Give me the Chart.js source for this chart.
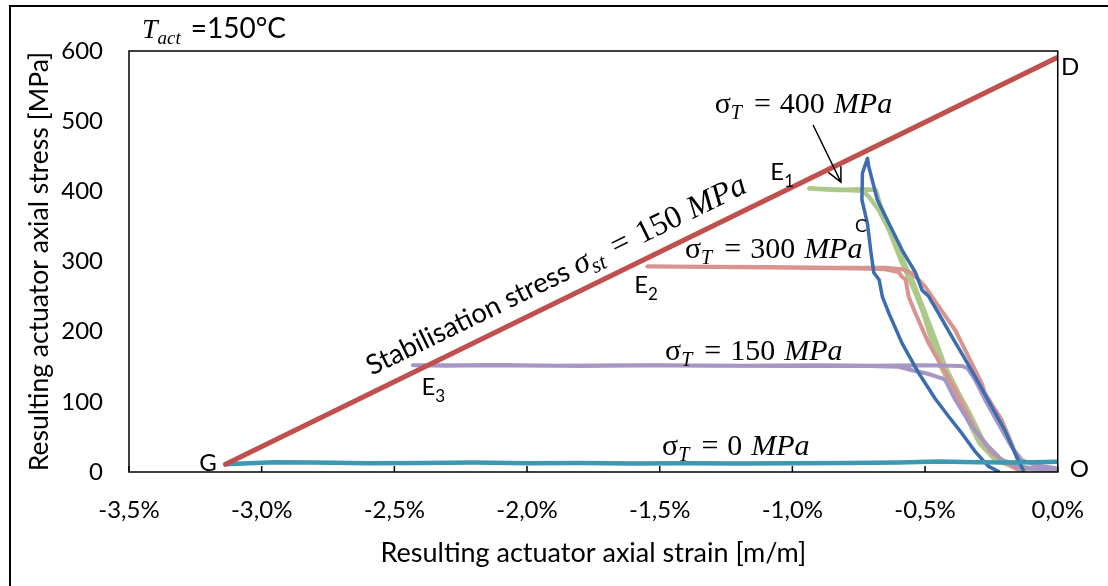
<!DOCTYPE html>
<html>
<head>
<meta charset="utf-8">
<script src="https://cdn.jsdelivr.net/npm/chart.js@4.4.1/dist/chart.umd.min.js"></script>
<style>
  html, body { margin: 0; padding: 0; background: #fff; }
  #wrap { width: 1108px; height: 586px; }
</style>
</head>
<body>
<div id="wrap"><canvas id="chart" width="1108" height="586"></canvas></div>
<script>
/* ================= DATA (strain in %, stress in MPa) ================= */
const stabStrain = [-3.136, 0];
const stabStress = [11, 591];

const s0Strain = [-3.136, -3.05, -2.95, -2.8, -2.6, -2.4, -2.2, -2.0, -1.8, -1.6, -1.4, -1.2, -1.0, -0.8, -0.6, -0.45, -0.3, -0.2, -0.1, 0];
const s0Stress = [11, 12.5, 14, 13.5, 12.5, 13, 13.5, 12.5, 13, 12, 12.5, 12, 12.5, 13, 13.5, 15, 14, 13.5, 14, 14.5];

const s150Strain = [0, -0.086, -0.136, -0.174, -0.224, -0.274, -0.311, -0.323, -0.34, -0.36, -0.5, -0.7, -0.9, -1.2, -1.5, -1.8, -2.1, -2.3, -2.43,
  -2.2, -1.9, -1.6, -1.3, -1.0, -0.75, -0.6, -0.549, -0.49, -0.436, -0.424, -0.386, -0.324, -0.261, -0.211, -0.149, -0.05, 0];
const s150Stress = [5, 10, 17, 36, 69, 103, 131, 138, 148, 151, 152, 151.5, 152, 151.5, 152, 151, 152.5, 151.5, 152,
  152, 151.5, 152, 151.5, 151, 151.5, 150, 145, 140, 133.5, 131, 103, 65, 36, 17, 7.5, 3, 0.5];

const s300Strain = [-0.124, -0.149, -0.174, -0.211, -0.274, -0.286, -0.336, -0.386, -0.449, -0.474, -0.499, -0.524, -0.549, -0.586, -0.648, -0.835, -1.1, -1.3, -1.547,
  -1.3, -1.0, -0.75, -0.65, -0.6, -0.586, -0.573, -0.562, -0.536, -0.486, -0.436, -0.386, -0.311, -0.249, -0.174, -0.136];
const s300Stress = [0.5, 15, 41, 74, 112, 126, 164, 202, 236, 250, 264, 274, 283, 289, 291, 291, 292, 292.5, 293,
  292, 291, 290, 289, 285, 278, 274, 250, 226, 183, 150, 117, 60, 27, 8, 0.5];

const s400Strain = [0, -0.08, -0.155, -0.215, -0.278, -0.327, -0.374, -0.424, -0.461, -0.499, -0.524, -0.549, -0.573, -0.623, -0.667, -0.686, -0.736, -0.835, -0.936,
  -0.8, -0.736, -0.711, -0.674, -0.636, -0.586, -0.536, -0.51, -0.475, -0.44, -0.39, -0.345, -0.295, -0.235, -0.17, -0.09, 0];
const s400Stress = [3, 4, 9, 18, 42, 80, 113, 150, 188, 226, 250, 274, 293, 340, 378, 402, 403, 402, 404,
  402, 401, 392, 373, 345, 297, 255, 230, 188, 150, 112, 79, 41, 17, 8, 3, 2];

const s450Strain = [-0.13, -0.149, -0.2, -0.25, -0.298, -0.348, -0.399, -0.449, -0.486, -0.511, -0.536, -0.586, -0.637, -0.68, -0.712, -0.717,
  -0.736, -0.738, -0.717, -0.705, -0.693, -0.673, -0.661, -0.636, -0.586, -0.524, -0.461, -0.411, -0.361, -0.311, -0.261, -0.224];
const s450Stress = [3, 17, 60, 94, 127, 160, 193, 226, 250, 259, 284, 316, 355, 388, 435, 447,
  426, 388, 354, 316, 284, 274, 250, 226, 183, 141, 104, 79, 55, 29, 8, 1];

const xTicks = ["-3,5%", "-3,0%", "-2,5%", "-2,0%", "-1,5%", "-1,0%", "-0,5%", "0,0%"];

/* ================= HELPERS ================= */
const pts = (xs, ys) => xs.map((v, i) => ({ x: v, y: ys[i] }));
const SANS = '"Lato", "Open Sans", sans-serif';
const MATH = '"Liberation Serif", "DejaVu Serif", serif';

function line(label, xs, ys, color, width) {
  return {
    label,
    data: pts(xs, ys),
    showLine: true,
    borderColor: color,
    borderWidth: width,
    pointRadius: 0,
    tension: 0,
    borderJoinStyle: "round",
    borderCapStyle: "round"
  };
}

// draws a row of text pieces (font / subscript shift / extra gap before)
function drawRuns(ctx, runs, x, y) {
  let cx = x;
  runs.forEach(r => {
    cx += r.gap || 0;
    ctx.font = r.font;
    ctx.fillText(r.t, cx, y + (r.dy || 0));
    cx += ctx.measureText(r.t).width;
  });
}

function sigma(val) {
  return [
    { t: "σ", font: `30px ${MATH}` },
    { t: "T", font: `italic 20px ${MATH}`, dy: 6 },
    { t: "=", font: `30px ${MATH}`, gap: 12 },
    { t: val, font: `30px ${MATH}`, gap: 9 },
    { t: "MPa", font: `italic 30px ${MATH}`, gap: 9 }
  ];
}

const sub = (letter, n) => [{ t: letter, font: `24px ${SANS}` }, { t: n, font: `17px ${SANS}`, dy: 7 }];

/* ================= ANNOTATIONS ================= */
const notes = [
  { at: [-3.451, 618.5], runs: [{ t: "T", font: `italic 28px ${MATH}` }, { t: "act", font: `italic 19px ${MATH}`, dy: 6 }, { t: "=150°C", font: `28px ${SANS}`, gap: 10 }] },
  { at: [-1.293, 511.6], runs: sigma("400") },
  { at: [-1.405, 305], runs: sigma("300") },
  { at: [-1.480, 159.6], runs: sigma("150") },
  { at: [-1.491, 24.2], runs: sigma("0") },
  { at: [-1.083, 416], runs: sub("E", "1") },
  { at: [-1.596, 255], runs: sub("E", "2") },
  { at: [-2.398, 109.7], runs: sub("E", "3") },
  { at: [-0.764, 342], runs: [{ t: "C", font: `18px ${SANS}` }] },
  { at: [-3.235, 1.4], runs: [{ t: "G", font: `24px ${SANS}` }] },
  { at: [0.012, 566], runs: [{ t: "D", font: `24px ${SANS}` }] },
  { at: [0.045, -7], runs: [{ t: "O", font: `24px ${SANS}` }] }
];

const decor = {
  id: "decor",
  afterDraw(chart) {
    const { ctx, chartArea: a, scales: { x, y } } = chart;
    ctx.save();
    ctx.strokeStyle = "#000";
    ctx.fillStyle = "#000";

    /* plot frame + inward x ticks */
    ctx.lineWidth = 1.5;
    ctx.strokeRect(a.left, a.top, a.right - a.left, a.bottom - a.top);
    x.ticks.forEach(t => {
      const px = x.getPixelForValue(t.value);
      ctx.beginPath();
      ctx.moveTo(px, a.bottom);
      ctx.lineTo(px, a.bottom - 6);
      ctx.stroke();
    });

    /* outer picture frame */
    ctx.lineWidth = 2;
    ctx.beginPath();
    ctx.moveTo(10, chart.height);
    ctx.lineTo(10, 6);
    ctx.lineTo(chart.width, 6);
    ctx.stroke();

    /* text notes */
    ctx.textBaseline = "alphabetic";
    ctx.textAlign = "left";
    notes.forEach(n => drawRuns(ctx, n.runs, x.getPixelForValue(n.at[0]), y.getPixelForValue(n.at[1])));

    /* stabilisation label along the red line */
    const x1 = x.getPixelForValue(stabStrain[0]), y1 = y.getPixelForValue(stabStress[0]);
    const x2 = x.getPixelForValue(stabStrain[1]), y2 = y.getPixelForValue(stabStress[1]);
    const ang = Math.atan2(y2 - y1, x2 - x1);
    ctx.save();
    ctx.translate(x.getPixelForValue(-2.585), y.getPixelForValue(137));
    ctx.rotate(ang);
    drawRuns(ctx, [
      { t: "Stabilisation stress", font: `27.5px ${SANS}` },
      { t: "σ", font: `italic 32px ${MATH}`, gap: 7 },
      { t: "st", font: `italic 22px ${MATH}`, dy: 6 },
      { t: "=", font: `32px ${MATH}`, gap: 12 },
      { t: "150", font: `32px ${MATH}`, gap: 10 },
      { t: "MPa", font: `italic 32px ${MATH}`, gap: 9 }
    ], 0, 0);
    ctx.restore();

    /* arrow to the 400 MPa curve */
    const ax1 = x.getPixelForValue(-0.922), ay1 = y.getPixelForValue(494.5);
    const ax2 = x.getPixelForValue(-0.817), ay2 = y.getPixelForValue(413);
    const a2 = Math.atan2(ay2 - ay1, ax2 - ax1);
    ctx.lineWidth = 1.5;
    ctx.beginPath();
    ctx.moveTo(ax1, ay1);
    ctx.lineTo(ax2, ay2);
    ctx.moveTo(ax2 - 16 * Math.cos(a2 - 0.45), ay2 - 16 * Math.sin(a2 - 0.45));
    ctx.lineTo(ax2, ay2);
    ctx.lineTo(ax2 - 16 * Math.cos(a2 + 0.45), ay2 - 16 * Math.sin(a2 + 0.45));
    ctx.stroke();

    ctx.restore();
  }
};

/* ================= CHART ================= */
new Chart(document.getElementById("chart"), {
  type: "scatter",
  data: {
    datasets: [
      line("Stabilisation", stabStrain, stabStress, "#C0504D", 5),
      line("0 MPa", s0Strain, s0Stress, "#3D98B0", 4.5),
      line("450 MPa", s450Strain, s450Stress, "#3C6DB0", 3.5),
      line("150 MPa", s150Strain, s150Stress, "#A596C3", 4),
      line("300 MPa", s300Strain, s300Stress, "#D99391", 4),
      line("400 MPa", s400Strain, s400Stress, "#ADC98A", 4.5)
    ]
  },
  options: {
    responsive: false,
    animation: false,
    layout: { padding: { left: 0, top: 51, right: 45, bottom: 0 } },
    plugins: { legend: { display: false }, tooltip: { enabled: false } },
    scales: {
      x: {
        type: "linear",
        min: -3.5,
        max: 0,
        afterFit: s => { s.height = 114; },
        afterBuildTicks: s => { s.ticks = xTicks.map((_, i) => ({ value: -3.5 + i * 0.5 })); },
        grid: { display: false, drawTicks: false },
        border: { display: false },
        ticks: {
          padding: 24,
          color: "#000",
          font: { family: SANS, size: 24 },
          callback: (v, i) => xTicks[i]
        },
        title: {
          display: true,
          text: "Resulting actuator axial strain [m/m]",
          color: "#000",
          font: { family: SANS, size: 27 },
          padding: { bottom: 17 }
        }
      },
      y: {
        min: 0,
        max: 600,
        afterFit: s => { s.width = 129; },
        grid: { display: false, drawTicks: false },
        border: { display: false },
        ticks: {
          stepSize: 100,
          padding: 26,
          color: "#000",
          font: { family: SANS, size: 24 }
        },
        title: {
          display: true,
          text: "Resulting actuator axial stress [MPa]",
          color: "#000",
          font: { family: SANS, size: 26.5 },
          padding: { top: 24 }
        }
      }
    }
  },
  plugins: [decor]
});
</script>
</body>
</html>
